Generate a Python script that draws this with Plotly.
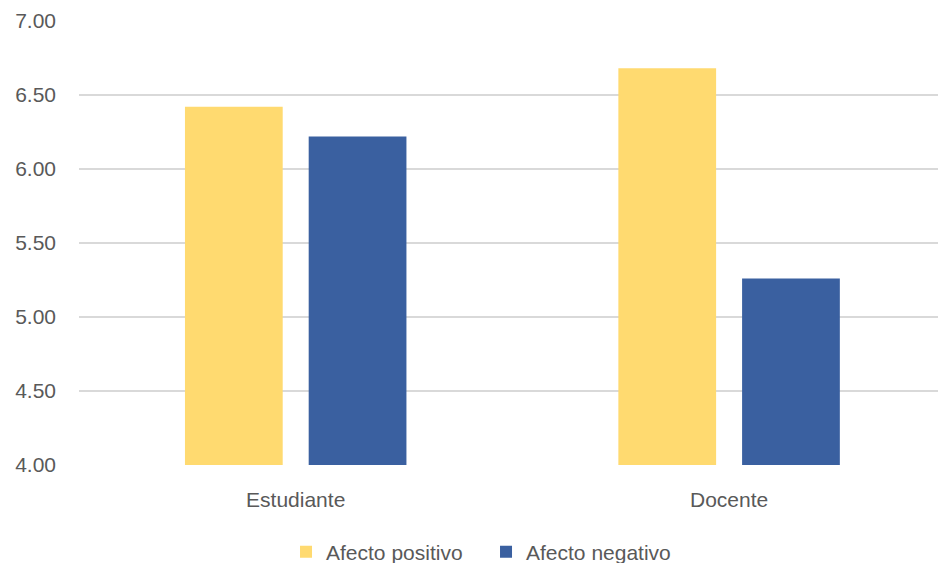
import plotly.graph_objects as go

categories = ["Estudiante", "Docente"]
afecto_positivo = [6.42, 6.68]
afecto_negativo = [6.22, 5.26]
y_ticks = [4.0, 4.5, 5.0, 5.5, 6.0, 6.5, 7.0]
y_tick_labels = ["4.00", "4.50", "5.00", "5.50", "6.00", "6.50", "7.00"]

FONT = "Liberation Sans Narrow, Liberation Sans, Arial"
FS = 21

fig = go.Figure()
fig.add_trace(go.Bar(x=categories, y=afecto_positivo, name="Afecto positivo",
                     marker=dict(color="#FFDA70", line=dict(width=0))))
fig.add_trace(go.Bar(x=categories, y=afecto_negativo, name="Afecto negativo",
                     marker=dict(color="#3A60A0", line=dict(width=0))))

fig.update_layout(
    width=938, height=563,
    margin=dict(l=79, r=0, t=21, b=98, autoexpand=False),
    paper_bgcolor="white", plot_bgcolor="white",
    barmode="group", bargap=0.429, bargroupgap=0.21,
    font=dict(family=FONT, size=FS, color="#595959"),
    showlegend=True,
    legend=dict(orientation="h", x=0.241, xanchor="left", y=-0.196, yanchor="middle",
                font=dict(family=FONT, size=FS, color="#595959"),
                itemwidth=30, entrywidth=155, entrywidthmode="pixels",
                traceorder="normal"),
    xaxis=dict(range=[-0.5, 1.482], showgrid=False, showline=False, zeroline=False,
               ticks="", ticklabelstandoff=20,
               tickfont=dict(family=FONT, size=FS, color="#595959")),
    yaxis=dict(range=[4.0, 7.0], tickvals=y_ticks, ticktext=y_tick_labels,
               showgrid=True, gridcolor="#D9D9D9", gridwidth=2, zeroline=False,
               showline=False, ticks="", ticklabelstandoff=22,
               tickfont=dict(family=FONT, size=FS, color="#595959")),
)

fig.write_html("out.html")
